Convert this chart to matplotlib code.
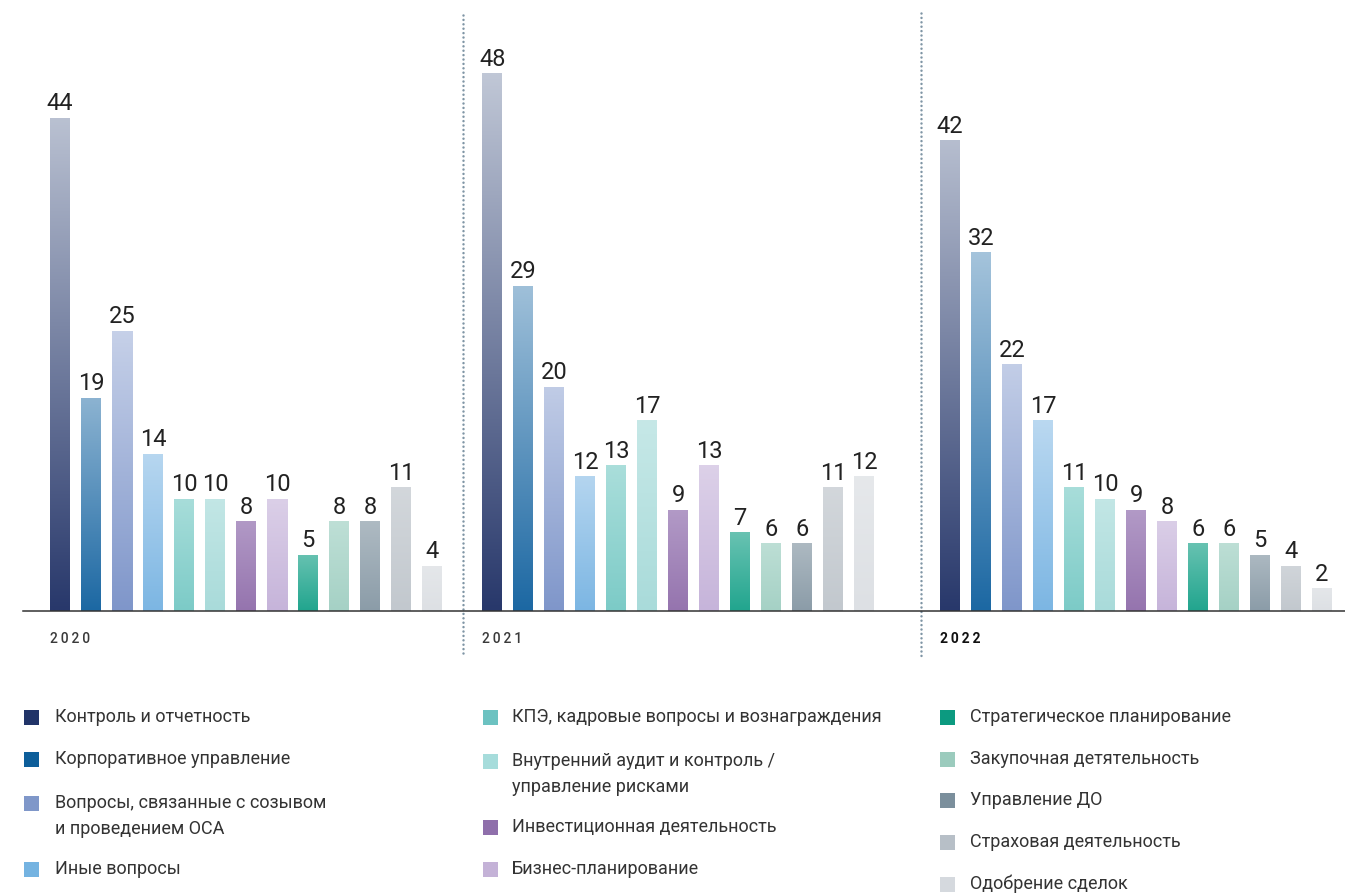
import numpy as np
import matplotlib
matplotlib.use("Agg")
import matplotlib.pyplot as plt
from matplotlib.colors import to_rgb
from matplotlib.transforms import blended_transform_factory

plt.rcParams['font.family'] = ['Roboto', 'DejaVu Sans']

# ---------------- data ----------------
years = ["2020", "2021", "2022"]
categories = [
    "Контроль и отчетность",
    "Корпоративное управление",
    "Вопросы, связанные с созывом\nи проведением ОСА",
    "Иные вопросы",
    "КПЭ, кадровые вопросы и вознаграждения",
    "Внутренний аудит и контроль /\nуправление рисками",
    "Инвестиционная деятельность",
    "Бизнес-планирование",
    "Стратегическое планирование",
    "Закупочная детятельность",
    "Управление ДО",
    "Страховая деятельность",
    "Одобрение сделок",
]
values_2020 = [44, 19, 25, 14, 10, 10, 8, 10, 5, 8, 8, 11, 4]
values_2021 = [48, 29, 20, 12, 13, 17, 9, 13, 7, 6, 6, 11, 12]
values_2022 = [42, 32, 22, 17, 11, 10, 9, 8, 6, 6, 5, 4, 2]

legend_colors = ["#213468", "#0d5e9a", "#7f97c9", "#74b3e1", "#6cc2c1", "#a6dcdb",
                 "#8f6fab", "#c4b2d7", "#0c9a80", "#9bcbbd", "#7b8f9c", "#b7bfc7", "#d5d9de"]
bottom_colors = ["#28386b", "#1c68a3", "#7f96ca", "#7cb6e3", "#7ccbc7", "#a9dbda",
                 "#9574ae", "#c6b4da", "#21a58e", "#a5d1c5", "#8b9ca8", "#c2c8ce", "#dde0e4"]
light_colors = ["#c0c7d6", "#c3d8e8", "#dfe5f3", "#dcebf8", "#c9ebe8", "#d6efee",
                "#c9b8da", "#ebe4f2", "#a8ddd2", "#d3ebe4", "#ccd4d9", "#dfe2e5", "#eceef0"]

# ---------------- layout ----------------
W, H = 1345, 896
fig = plt.figure(figsize=(W / 100, H / 100), dpi=100)

px_per_slot = 31.0
first_center_px = 60.0
left_px = 23.0
base_px = 611.0
px_per_unit = 11.2

ax = fig.add_axes([left_px / W, (H - base_px) / H, 1 - left_px / W, base_px / H])

group_starts = [0.0, 13.94, 28.71]
dividers = [13.0, 27.79]
bar_w = 20 / px_per_slot

all_values = [values_2020, values_2021, values_2022]
n = len(categories)
for g, vals in enumerate(all_values):
    xs = group_starts[g] + np.arange(n)
    bars = ax.bar(xs, vals, width=bar_w, color="none", edgecolor="none", zorder=2)
    for i, b in enumerate(bars):
        h = b.get_height()
        c0 = np.array(to_rgb(bottom_colors[i]))
        c1 = np.array(to_rgb(light_colors[i]))
        f = 0.45 + 0.55 * h / 48.0
        ctop = c0 + (c1 - c0) * f
        t = np.linspace(0, 1, 128)[:, None]
        grad = (c0[None, :] * (1 - t) + ctop[None, :] * t)[:, None, :]
        ax.imshow(grad, extent=[b.get_x(), b.get_x() + b.get_width(), 0, h],
                  origin="lower", aspect="auto", interpolation="bilinear", zorder=2)
    ax.bar_label(bars, labels=[str(v) for v in vals], padding=2, fontsize=17,
                 color="#222222", family=['Roboto', 'DejaVu Sans'])
    ax.text(group_starts[g] - bar_w / 2, -(639 - base_px) / px_per_unit,
            "\u2009".join(years[g]), fontsize=10,
            fontweight="bold" if g == 2 else "medium",
            color="#111111" if g == 2 else "#3a3a3a",
            ha="left", va="center", clip_on=False,
            family=['Roboto', 'DejaVu Sans'])

ax.set_xlim((left_px - first_center_px) / px_per_slot, (W - first_center_px) / px_per_slot)
ax.set_ylim(0, base_px / px_per_unit)

for s in ["top", "right", "left"]:
    ax.spines[s].set_visible(False)
ax.spines["bottom"].set_color("#333333")
ax.spines["bottom"].set_linewidth(1.1)
ax.set_xticks([])
ax.set_yticks([])
ax.patch.set_alpha(0)

trans = blended_transform_factory(ax.transData, fig.transFigure)
for d, ytop in zip(dividers, [15, 13]):
    ax.plot([d, d], [1 - ytop / H, 1 - 657 / H], transform=trans, clip_on=False,
            color="#7f95a5", linewidth=1.8, linestyle=(0, (0.01, 1.75)),
            dash_capstyle="round", zorder=1)

# ---------------- legend ----------------
col_sq_x = [24, 483, 940]
col_txt_x = [55, 512, 970]
col_items = [[0, 1, 2, 3], [4, 5, 6, 7], [8, 9, 10, 11, 12]]
col_rows = [[717, 759, 803, 869], [717, 761, 827, 869], [717, 759, 800, 842, 884]]
sq = 15
line_gap = 26
for c in range(3):
    for idx, yc in zip(col_items[c], col_rows[c]):
        fig.patches.append(plt.Rectangle((col_sq_x[c] / W, 1 - (yc + sq / 2) / H),
                                         sq / W, sq / H, transform=fig.transFigure,
                                         facecolor=legend_colors[idx], edgecolor="none"))
        lines = categories[idx].split("\n")
        for k, ln in enumerate(lines):
            fig.text(col_txt_x[c] / W, 1 - (yc + k * line_gap) / H, ln,
                     fontsize=13, color="#333333", ha="left", va="center")

fig.savefig("out.png", dpi=100)
